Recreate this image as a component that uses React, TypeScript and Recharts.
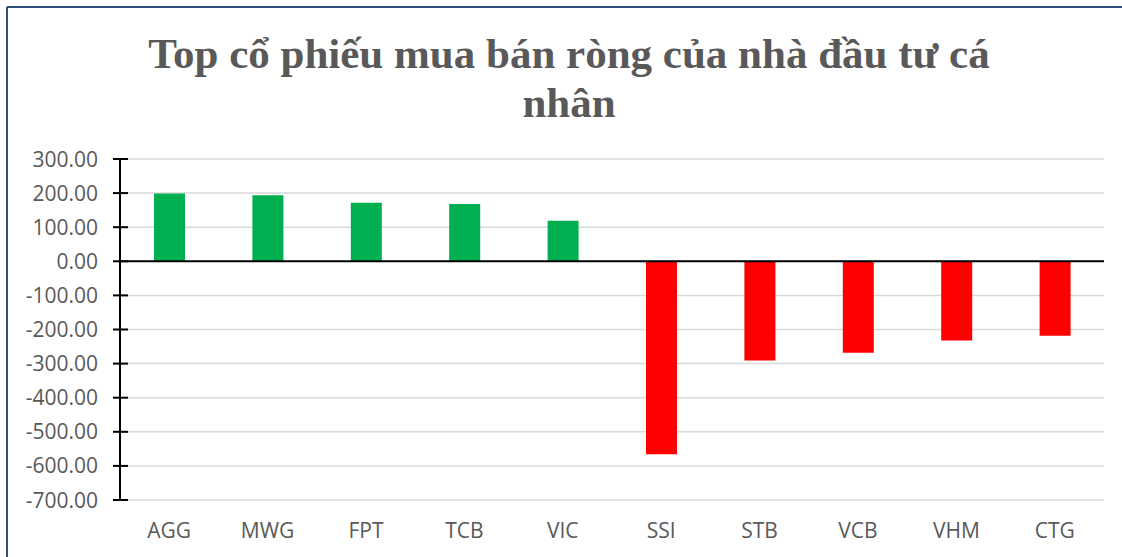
import React from 'react';
import { BarChart, Bar, XAxis, YAxis, CartesianGrid, ReferenceLine, Cell } from 'recharts';

const categories = ['AGG', 'MWG', 'FPT', 'TCB', 'VIC', 'SSI', 'STB', 'VCB', 'VHM', 'CTG'];
const values = [199, 194, 172, 168, 119, -566, -291, -268, -232, -218];
const yTicks = [300, 200, 100, 0, -100, -200, -300, -400, -500, -600, -700];
const titleLines = ['Top cổ phiếu mua bán ròng của nhà đầu tư cá', 'nhân'];

const data = categories.map((c, i) => ({ name: c, value: values[i] }));

const TICK_FONT = "'Open Sans', 'Noto Sans', sans-serif";

const YTick = (props: any) => {
  const { x, y, payload } = props;
  return (
    <g>
      <line x1={x - 7} x2={x + 8} y1={y} y2={y} stroke="#000" strokeWidth={2} />
      <text x={x - 22} y={y} dy="0.36em" textAnchor="end" fill="#595959" fontSize={21} fontFamily={TICK_FONT}>
        {Number(payload.value).toFixed(2)}
      </text>
    </g>
  );
};

const XTick = (props: any) => {
  const { x, y, payload } = props;
  return (
    <text x={x} y={y + 30} textAnchor="middle" fill="#595959" fontSize={21} fontFamily={TICK_FONT}>
      {payload.value}
    </text>
  );
};

export default function App() {
  return (
    <div style={{ position: 'absolute', left: 0, top: 0, width: 1122, height: 557, background: '#fff' }}>
      <BarChart
        width={1122}
        height={557}
        data={data}
        margin={{ top: 159, right: 18, left: 0, bottom: 0 }}
        style={{ position: 'absolute', left: 0, top: 0 }}
      >
        <CartesianGrid vertical={false} stroke="#d9d9d9" strokeWidth={1.5} />
        <XAxis
          dataKey="name"
          axisLine={false}
          tickLine={false}
          height={57}
          tick={<XTick />}
          interval={0}
        />
        <YAxis
          domain={[-700, 300]}
          ticks={yTicks}
          width={120}
          tickSize={0}
          tickMargin={0}
          axisLine={{ stroke: '#000', strokeWidth: 2 }}
          tick={<YTick />}
          interval={0}
          allowDataOverflow
        />
        <ReferenceLine y={0} stroke="#000" strokeWidth={2} />
        <Bar dataKey="value" barSize={31} isAnimationActive={false}>
          {data.map((d, i) => (
            <Cell key={i} fill={d.value >= 0 ? '#00B050' : '#FF0000'} />
          ))}
        </Bar>
      </BarChart>
      <svg width={1122} height={557} style={{ position: 'absolute', left: 0, top: 0, pointerEvents: 'none' }}>
        <line x1={7} y1={7} x2={1122} y2={7} stroke="#2F4F7A" strokeWidth={2} />
        <line x1={7} y1={7} x2={7} y2={557} stroke="#2F4F7A" strokeWidth={2} />
        <text x={569} y={68} textAnchor="middle" fill="#595959" fontSize={43} fontWeight="bold" fontFamily="'Liberation Serif', 'Times New Roman', serif">
          {titleLines[0]}
        </text>
        <text x={569} y={117} textAnchor="middle" fill="#595959" fontSize={43} fontWeight="bold" fontFamily="'Liberation Serif', 'Times New Roman', serif">
          {titleLines[1]}
        </text>
      </svg>
    </div>
  );
}
